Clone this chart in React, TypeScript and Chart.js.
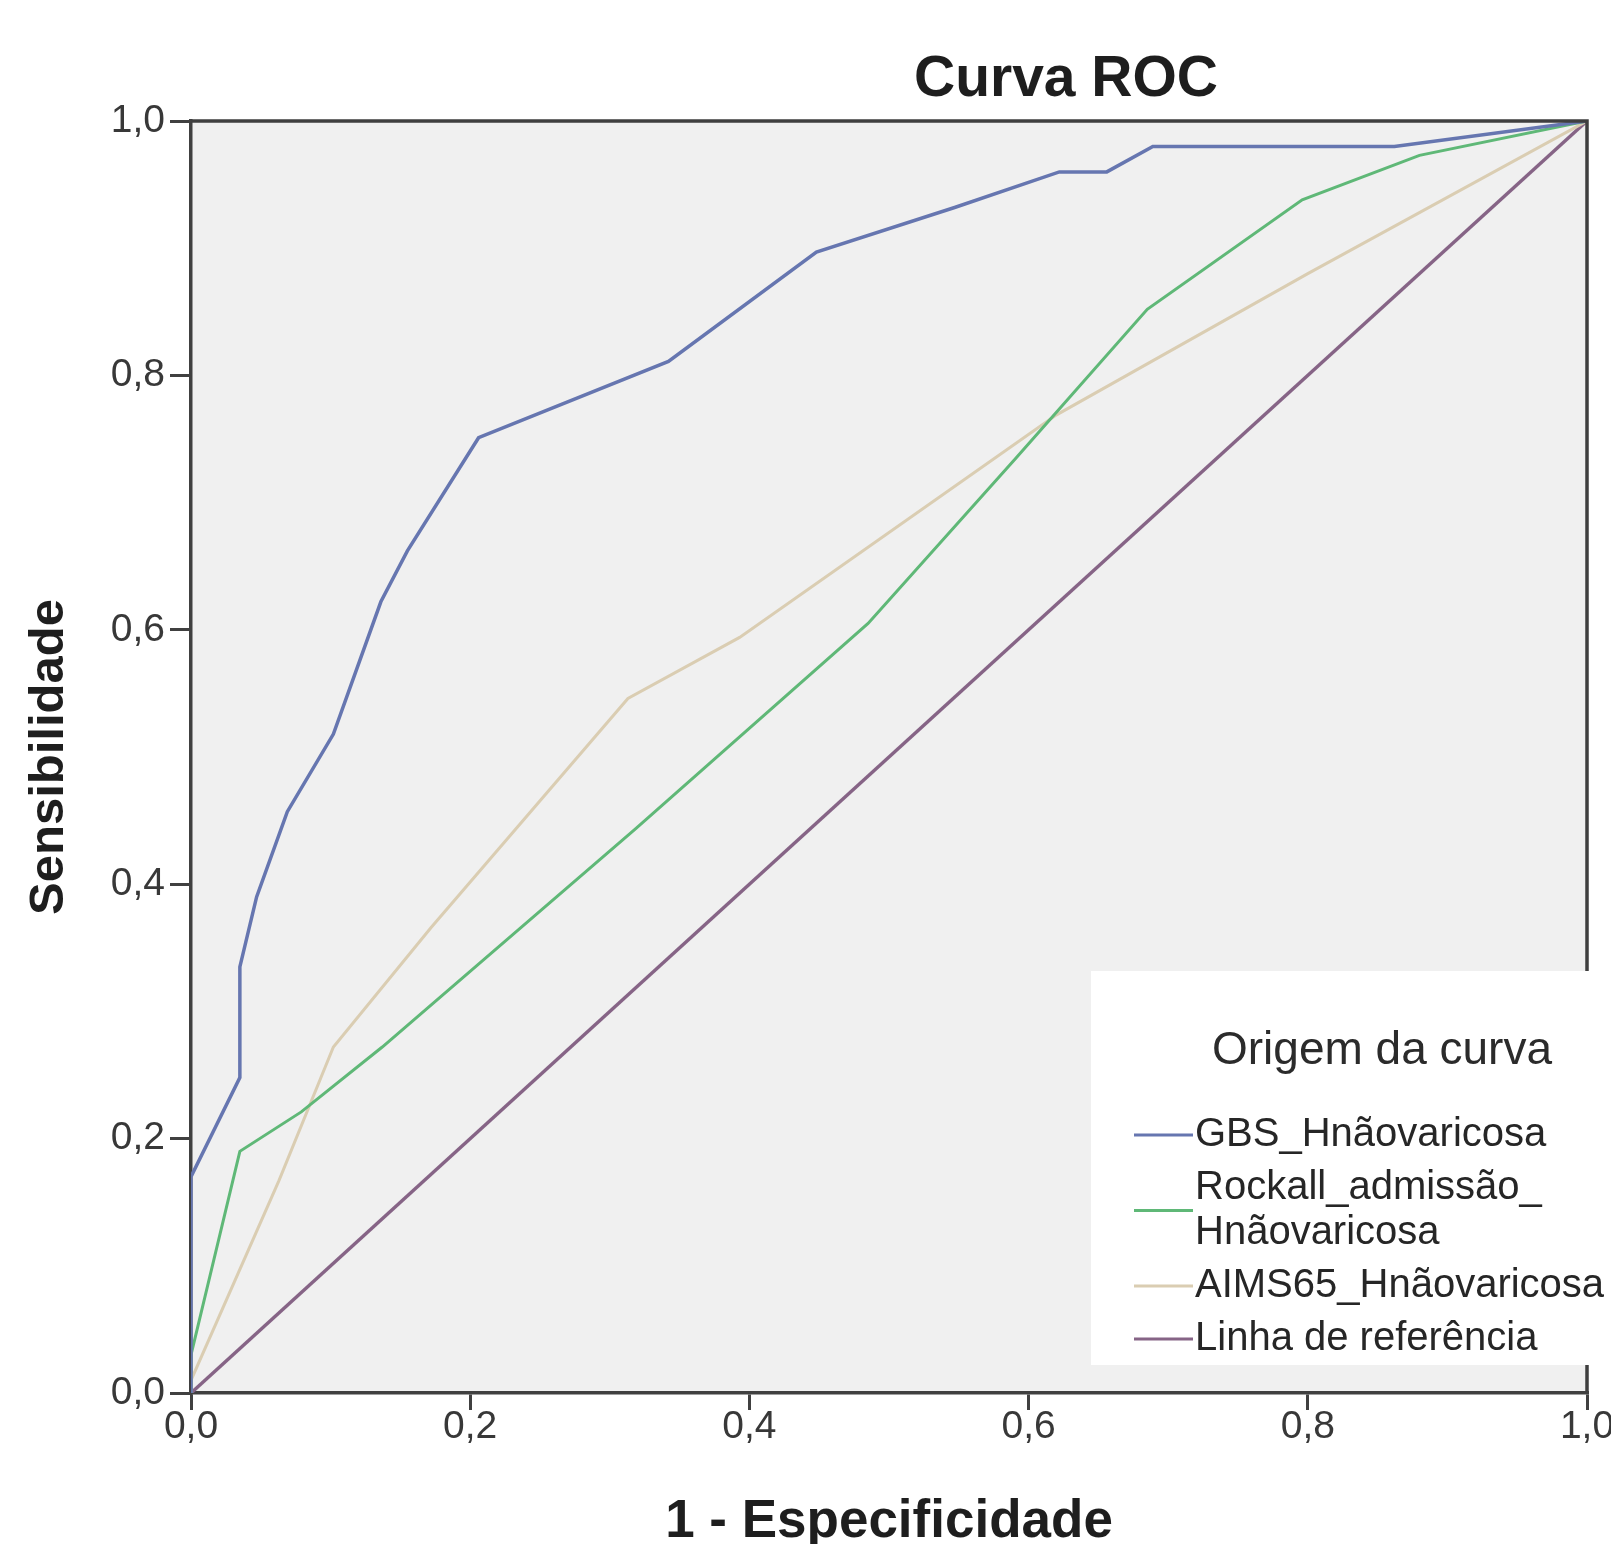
import React, { useEffect, useRef } from 'react';
import { Chart, registerables } from 'chart.js';

Chart.register(...registerables);

// ---- data ----
const seriesNames = [
  'GBS_Hnãovaricosa',
  'Rockall_admissão_\nHnãovaricosa',
  'AIMS65_Hnãovaricosa',
  'Linha de referência',
];

const gbsX = [0, 0, 0.035, 0.035, 0.047, 0.069, 0.102, 0.136, 0.155, 0.206, 0.342, 0.448, 0.547, 0.622, 0.656, 0.689, 0.862, 1];
const gbsY = [0, 0.17, 0.248, 0.335, 0.39, 0.457, 0.518, 0.622, 0.662, 0.751, 0.811, 0.897, 0.932, 0.96, 0.96, 0.98, 0.98, 1];

const rockallX = [0, 0, 0.035, 0.079, 0.137, 0.319, 0.485, 0.591, 0.685, 0.796, 0.88, 1];
const rockallY = [0, 0.03, 0.19, 0.221, 0.272, 0.444, 0.605, 0.735, 0.852, 0.938, 0.973, 1];

const aimsX = [0, 0, 0.063, 0.102, 0.172, 0.313, 0.393, 0.62, 0.8, 1];
const aimsY = [0, 0.01, 0.167, 0.272, 0.366, 0.546, 0.594, 0.769, 0.88, 1];

const refX = [0, 1];
const refY = [0, 1];

const xTickLabels = ['0,0', '0,2', '0,4', '0,6', '0,8', '1,0'];
const yTickLabels = ['0,0', '0,2', '0,4', '0,6', '0,8', '1,0'];

const chartTitle = 'Curva ROC';
const xTitle = '1 - Especificidade';
const yTitle = 'Sensibilidade';
const legendTitle = 'Origem da curva';

const seriesColors = ['#6676b0', '#5fb877', '#dacdb2', '#866486'];
const seriesWidths = [3.5, 3, 3, 3.5];

const FONT = '"Liberation Sans", Arial, Helvetica, sans-serif';

function pts(xs: number[], ys: number[]) {
  return xs.map((x, i) => ({ x, y: ys[i] }));
}

const backgroundPlugin = {
  id: 'plotBackground',
  beforeDraw(chart: any) {
    const { ctx, chartArea: a } = chart;
    ctx.save();
    ctx.fillStyle = '#ffffff';
    ctx.fillRect(0, 0, chart.width, chart.height);
    ctx.fillStyle = '#f0f0f0';
    ctx.fillRect(a.left, a.top, a.right - a.left, a.bottom - a.top);
    ctx.restore();
  },
  afterDatasetsDraw(chart: any) {
    const { ctx, chartArea: a } = chart;
    ctx.save();
    ctx.strokeStyle = '#3f3f3f';
    ctx.lineWidth = 3.5;
    ctx.beginPath();
    ctx.moveTo(a.left, a.top);
    ctx.lineTo(a.right, a.top);
    ctx.lineTo(a.right, a.bottom);
    ctx.stroke();
    ctx.restore();
  },
};

const titlePlugin = {
  id: 'offsetTitle',
  afterDraw(chart: any) {
    const { ctx } = chart;
    ctx.save();
    ctx.fillStyle = '#1e1e1e';
    ctx.font = `bold 57px ${FONT}`;
    ctx.textAlign = 'center';
    ctx.textBaseline = 'middle';
    ctx.fillText(chartTitle, 1066, 80);
    ctx.restore();
  },
};

const legendPlugin = {
  id: 'boxLegend',
  afterDraw(chart: any) {
    const { ctx } = chart;
    ctx.save();
    ctx.fillStyle = '#ffffff';
    ctx.fillRect(1091, 971, chart.width - 1091, 394);
    ctx.fillStyle = '#2b2b2b';
    ctx.font = `46px ${FONT}`;
    ctx.textAlign = 'center';
    ctx.textBaseline = 'middle';
    ctx.fillText(legendTitle, 1382, 1051);
    ctx.font = `40px ${FONT}`;
    ctx.textAlign = 'left';
    const lh = 45;
    let y = 1135;
    chart.data.datasets.forEach((ds: any) => {
      const lines = String(ds.label).split('\n');
      const mid = y + ((lines.length - 1) * lh) / 2;
      ctx.strokeStyle = ds.borderColor;
      ctx.lineWidth = 3;
      ctx.beginPath();
      ctx.moveTo(1134, mid);
      ctx.lineTo(1193, mid);
      ctx.stroke();
      ctx.fillStyle = '#262626';
      lines.forEach((t: string, i: number) => ctx.fillText(t, 1195, y + i * lh));
      y += lines.length * lh + 8;
    });
    ctx.restore();
  },
};

export default function App() {
  const ref = useRef<HTMLCanvasElement | null>(null);

  useEffect(() => {
    document.body.style.margin = '0';
    const canvas = ref.current;
    if (!canvas) return;
    const xs = [gbsX, rockallX, aimsX, refX];
    const ys = [gbsY, rockallY, aimsY, refY];
    const chart = new Chart(canvas, {
      type: 'scatter',
      data: {
        datasets: seriesNames.map((name, i) => ({
          label: name,
          data: pts(xs[i], ys[i]),
          showLine: true,
          borderColor: seriesColors[i],
          backgroundColor: seriesColors[i],
          borderWidth: seriesWidths[i],
          pointRadius: 0,
          pointHoverRadius: 0,
          tension: 0,
          fill: false,
        })),
      },
      options: {
        responsive: false,
        animation: false,
        devicePixelRatio: 1,
        events: [],
        layout: { padding: { top: 121, right: 24, left: 0, bottom: 0 } },
        plugins: {
          legend: { display: false },
          title: { display: false },
          tooltip: { enabled: false },
        },
        scales: {
          x: {
            type: 'linear',
            min: 0,
            max: 1,
            afterFit: (s: any) => {
              s.height = 151;
              s.paddingLeft = 0;
              s.paddingRight = 0;
            },
            ticks: {
              stepSize: 0.2,
              padding: -6,
              color: '#383838',
              font: { family: FONT, size: 39 },
              maxRotation: 0,
              callback: (_v: any, i: number) => xTickLabels[i],
            },
            grid: {
              drawOnChartArea: false,
              drawTicks: true,
              tickLength: 17,
              color: '#404040',
              lineWidth: 3,
            },
            border: { display: true, color: '#404040', width: 3.5 },
            title: {
              display: true,
              text: xTitle,
              color: '#1e1e1e',
              font: { family: FONT, size: 53, weight: 'bold', lineHeight: 0.8 },
              padding: { top: 0, bottom: 0 },
            },
          },
          y: {
            type: 'linear',
            min: 0,
            max: 1,
            afterFit: (s: any) => {
              s.width = 191;
              s.paddingTop = 0;
              s.paddingBottom = 0;
            },
            ticks: {
              stepSize: 0.2,
              padding: 5,
              color: '#383838',
              font: { family: FONT, size: 39 },
              callback: (_v: any, i: number) => yTickLabels[i],
            },
            grid: {
              drawOnChartArea: false,
              drawTicks: true,
              tickLength: 21,
              color: '#404040',
              lineWidth: 3,
            },
            border: { display: true, color: '#404040', width: 3.5 },
            title: {
              display: true,
              text: yTitle,
              color: '#1e1e1e',
              font: { family: FONT, size: 49, weight: 'bold', lineHeight: 1.2 },
              padding: { top: 20, bottom: 0 },
            },
          },
        },
      } as any,
      plugins: [backgroundPlugin, titlePlugin, legendPlugin],
    });
    return () => chart.destroy();
  }, []);

  return (
    <div style={{ position: 'absolute', left: 0, top: 0, width: 1611, height: 1544 }}>
      <canvas ref={ref} width={1611} height={1544} style={{ display: 'block', width: 1611, height: 1544 }} />
    </div>
  );
}
